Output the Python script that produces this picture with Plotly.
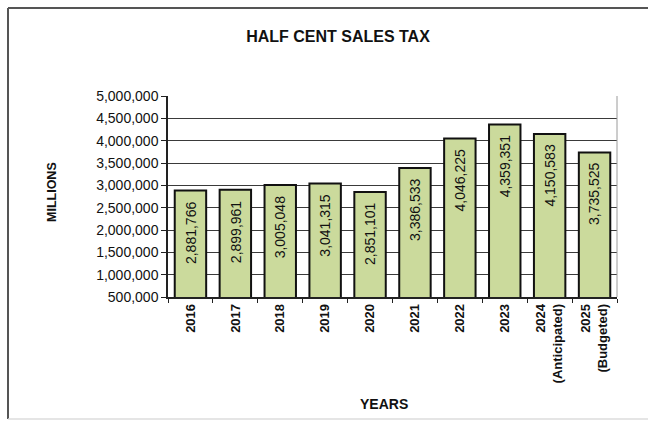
import plotly.graph_objects as go

# Half cent sales tax receipts by year
years = ["2016", "2017", "2018", "2019", "2020", "2021", "2022", "2023",
         "2024<br>(Anticipated)", "2025<br>(Budgeted)"]
revenue = [2881766, 2899961, 3005048, 3041315, 2851101, 3386533,
           4046225, 4359351, 4150583, 3735525]
y_ticks = [500000, 1000000, 1500000, 2000000, 2500000, 3000000,
           3500000, 4000000, 4500000, 5000000]

FONT = "Liberation Sans, Arial, sans-serif"
INK = "#111111"
W, H = 650, 423
L, R, T, B = 168, 33, 96, 126
pw, ph = W - L - R, H - T - B

fig = go.Figure()
fig.add_trace(go.Bar(
    x=years, y=revenue,
    marker=dict(color="#cbda9c", line=dict(color=INK, width=2)),
    hoverinfo="x+y",
))

# value labels, rotated, just inside the top of each bar
for i, val in enumerate(revenue):
    fig.add_annotation(
        x=i, y=val, xref="x", yref="y",
        text=f"{val:,}", textangle=-90, showarrow=False,
        yanchor="top", yshift=-9,
        font=dict(family=FONT, size=14, color=INK),
    )

# axis captions
fig.add_annotation(
    text="<b>YEARS</b>", showarrow=False,
    xref="paper", yref="paper",
    x=(384 - L) / pw, y=-(404 - (T + ph)) / ph,
    xanchor="center", yanchor="middle",
    font=dict(family=FONT, size=14, color=INK),
)
fig.add_annotation(
    text="<b>MILLIONS</b>", showarrow=False, textangle=-90,
    xref="paper", yref="paper",
    x=-(L - 52) / pw, y=1 - (192 - T) / ph,
    xanchor="center", yanchor="middle",
    font=dict(family=FONT, size=12.5, color=INK),
)

fig.update_layout(
    width=W, height=H,
    margin=dict(l=L, r=R, t=T, b=B),
    paper_bgcolor="white", plot_bgcolor="white",
    bargap=0.3,
    showlegend=False,
    title=dict(
        text="<b>HALF CENT SALES TAX</b>",
        x=338 / W, xanchor="center", xref="container",
        y=1 - 36.5 / H, yanchor="middle", yref="container",
        font=dict(family=FONT, size=16, color=INK),
    ),
    font=dict(family=FONT, size=13, color=INK),
)

fig.update_yaxes(
    range=[500000, 5000000], tickvals=y_ticks,
    tickformat=",d",
    showgrid=True, gridcolor="#3a3a3a", gridwidth=1,
    showline=True, linecolor="#222222", linewidth=1.5,
    ticks="outside", ticklen=5, tickcolor="#222222",
    zeroline=False,
    tickfont=dict(family=FONT, size=14, color=INK),
)
fig.update_xaxes(
    type="category",
    categoryorder="array", categoryarray=years,
    range=[-0.5, len(years) - 0.5],
    tickangle=-90,
    showline=True, linecolor="#222222", linewidth=1.5,
    ticks="outside", ticklen=4, tickcolor="#222222",
    tickson="boundaries",
    tickfont=dict(family=FONT, size=13, color=INK),
    tickprefix="<b>", ticksuffix="</b>",
)

# light right-hand edge of the plot area
fig.add_shape(type="line", xref="paper", yref="paper",
              x0=1, x1=1, y0=0, y1=1,
              line=dict(color="#9a9a9a", width=1))

# frame lines around the chart
fig.add_shape(type="line", xref="paper", yref="paper",
              x0=-160 / pw, x1=1 + 31 / pw,
              y0=1 + 88 / ph, y1=1 + 88 / ph,
              line=dict(color="#555555", width=2))
fig.add_shape(type="line", xref="paper", yref="paper",
              x0=-160 / pw, x1=-160 / pw,
              y0=1 + 88 / ph, y1=-122 / ph,
              line=dict(color="#555555", width=2))
fig.add_shape(type="line", xref="paper", yref="paper",
              x0=-160 / pw, x1=1 + 31 / pw,
              y0=-122 / ph, y1=-122 / ph,
              line=dict(color="#dddddd", width=1.5))

fig.write_html("out.html")
